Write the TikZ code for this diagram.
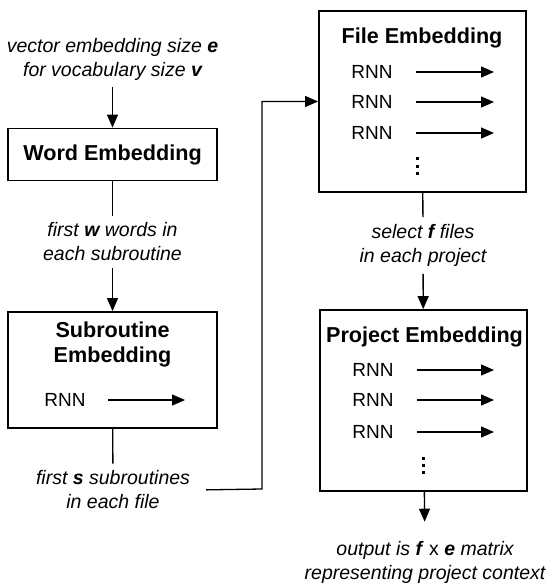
\documentclass[tikz,border=0pt]{standalone}
\usepackage{fontspec}
\setmainfont{Liberation Sans}
\usetikzlibrary{arrows.meta}

\begin{document}
\begin{tikzpicture}[x=1pt, y=-1pt,
		block/.style={draw, line width=1.8pt, inner sep=0pt},
		title/.style={align=center, font=\fontsize{21.6}{25}\selectfont\bfseries, inner sep=0pt},
		note/.style={align=center, font=\fontsize{19.5}{24}\selectfont\itshape, inner sep=7pt},
		rnn/.style={font=\fontsize{19}{22}\selectfont, inner sep=0pt},
		flow/.style={line width=1.3pt, -{Triangle[length=13pt, width=11pt]}},
		link/.style={line width=1.3pt}]
			\useasboundingbox (0,0) rectangle (550,588);

			% Draw the word and subroutine blocks
			\node[block, title, minimum width=209pt, minimum height=52pt] (word) at (112.5,154.5) {Word Embedding};
			\node[block, minimum width=209pt, minimum height=116pt] (sub) at (112.5,370) {};
			\node[title] (subtitle) at (112.5,344.5) {Subroutine\\Embedding};
			\node[rnn] (rs) at (65,400) {RNN};
			\coordinate (rsout) at (185,400);
			\draw[flow, shorten <=22pt] (rs.east) -- (rsout);

			% Draw the file block
			\node[block, minimum width=207pt, minimum height=181pt] (file) at (422.5,101.5) {};
			\node[title] (filetitle) at (422,38) {File Embedding};
			\node[rnn] (rf1) at (372,72) {RNN};
			\node[rnn] (rf2) at (372,102) {RNN};
			\node[rnn] (rf3) at (372,133) {RNN};
			\coordinate (rf1out) at (494,72);
			\coordinate (rf2out) at (494,102);
			\coordinate (rf3out) at (494,133);
			\draw[flow, shorten <=23pt] (rf1.east) -- (rf1out);
			\draw[flow, shorten <=23pt] (rf2.east) -- (rf2out);
			\draw[flow, shorten <=23pt] (rf3.east) -- (rf3out);
			\coordinate (filedots) at (417,166);
			\foreach \d in {-7,0,7}
				\fill ([shift={(-1.5,\d-1.5)}]filedots) rectangle ++(3,3);

			% Draw the project block
			\node[block, minimum width=207pt, minimum height=181pt] (proj) at (423.5,400.5) {};
			\node[title] (projtitle) at (424.5,337) {Project Embedding};
			\node[rnn] (rp1) at (373,370) {RNN};
			\node[rnn] (rp2) at (373,400) {RNN};
			\node[rnn] (rp3) at (373,432) {RNN};
			\coordinate (rp1out) at (494,370);
			\coordinate (rp2out) at (494,400);
			\coordinate (rp3out) at (494,432);
			\draw[flow, shorten <=23pt] (rp1.east) -- (rp1out);
			\draw[flow, shorten <=23pt] (rp2.east) -- (rp2out);
			\draw[flow, shorten <=23pt] (rp3.east) -- (rp3out);
			\coordinate (projdots) at (423,465);
			\foreach \d in {-7,0,7}
				\fill ([shift={(-1.5,\d-1.5)}]projdots) rectangle ++(3,3);

			% Draw the notes between the blocks
			\node[note] (vocab) at (112.5,59) {vector embedding size \textbf{e}\\for vocabulary size \textbf{v}};
			\node[note] (words) at (112.5,242) {first \textbf{w} words in\\each subroutine};
			\node[note] (subs) at (113,490) {first \textbf{s} subroutines\\in each file};
			\node[note] (files) at (423,245.5) {select \textbf{f} files\\in each project};
			\node[note] (output) at (425,562) {output is \textbf{f} \textup{x} \textbf{e} matrix\\representing project context};

			% Draw the connectors
			\draw[flow] (vocab) -- (word);
			\draw[link] (word) -- (words);
			\draw[flow] (words) -- (sub);
			\draw[link] (sub) -- (subs);
			\coordinate (turn) at (262,489);
			\draw[flow, shorten <=9pt] (subs.east) -- (turn) |- (file.west);
			\draw[link] (file) -- (files);
			\draw[flow] (files) -- (proj);
			\draw[flow, shorten >=12pt] (proj) -- (output);
		\end{tikzpicture}
\end{document}
